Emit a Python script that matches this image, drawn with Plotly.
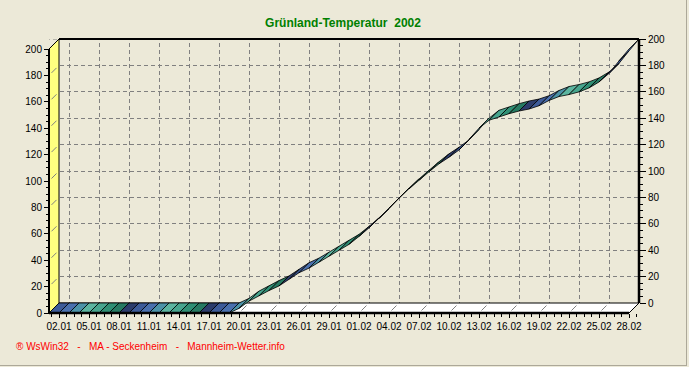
import plotly.graph_objects as go

# ---------------- data ----------------
days = list(range(1, 60))  # 01.01 .. 28.02 (day of year)
values = [0] * 19 + [
    3.5, 9, 13, 17, 20.5, 25.5, 30.5, 34, 38.5, 43,
    47.5, 52, 58, 64.5, 71.5, 79.5, 87, 94, 100.5, 107,
    113, 118, 123.5, 131.5, 140, 146, 148.5, 151, 153, 154.5,
    157, 161, 164, 165.5, 167.5, 170.5, 175, 181.5, 191, 200,
]
label_days = [2, 5, 8, 11, 14, 17, 20, 23, 26, 29, 32, 35, 38, 41, 44, 47, 50, 53, 56, 59]
labels = ["02.01", "05.01", "08.01", "11.01", "14.01", "17.01", "20.01", "23.01", "26.01", "29.01",
          "01.02", "04.02", "07.02", "10.02", "13.02", "16.02", "19.02", "22.02", "25.02", "28.02"]
y_ticks = [0, 20, 40, 60, 80, 100, 120, 140, 160, 180, 200]
title_text = "Grünland-Temperatur  2002"
footer_text = "® WsWin32   -   MA - Seckenheim   -   Mannheim-Wetter.info"

# ---------------- style ----------------
palette = ["#3d5b99", "#4a70ae", "#4c93a8", "#5cb5a0", "#47a58e", "#2f8f74", "#267a62", "#2c3c6c"]
BG = "#ece9d8"
GRID = "#808080"
FONT = "Liberation Sans, Arial, sans-serif"

W, H = 689, 367
PX_DAY = 10.0
PX_UNIT = 1.32
DX = 1.0                 # depth offset (days)
DY = 10.0 / PX_UNIT      # depth offset (value units)
PADX = 0.3
PADY = 3.0 / PX_UNIT

x0, x1 = days[0] - 1, days[-1]
ylo, yhi = -DY, y_ticks[-1]
xr = [x0 - PADX, x1 + PADX]
yr = [ylo - PADY, yhi + PADY]

L = 49 - PADX * PX_DAY
plot_w = (xr[1] - xr[0]) * PX_DAY
R = W - L - plot_w
T = 39 - PADY * PX_UNIT
plot_h = (yr[1] - yr[0]) * PX_UNIT
B = H - T - plot_h

fig = go.Figure()

def poly(xs, ys, fill, lc="black", lw=1, filled=True):
    fig.add_trace(go.Scatter(
        x=xs, y=ys, mode="lines",
        fill="toself" if filled else None,
        fillcolor=fill,
        line=dict(color=lc, width=lw),
        hoverinfo="skip", showlegend=False,
    ))

# cover padding ring (hides grid bits outside the box)
cx, cy = [], []
for (a, b, c, d) in [
    (xr[0], xr[1], yhi - 0.4, yr[1]),
    (x1, xr[1], yr[0], yr[1]),
    (xr[0], x0, yr[0], yr[1]),
    (xr[0], xr[1], yr[0], ylo),
]:
    cx += [a, b, b, a, a, None]
    cy += [c, c, d, d, c, None]
poly(cx, cy, BG, lc=BG, lw=0)

# left wall (yellow)
poly([x0, x0, x0 + DX, x0 + DX, x0], [ylo, yhi - DY, yhi, 0, ylo], "#ffff80", lw=1)
# floor (white)
poly([x0, x0 + DX, x1, x1 - DX, x0], [ylo, 0, 0, ylo, ylo], "#ffffff", lw=1)

# grid continuation on wall and floor
gx, gy = [], []
for v in y_ticks[1:-1]:
    gx += [x0 + 0.25, x0 + 0.75, None]
    gy += [v - DY * 0.75, v - DY * 0.25, None]
for d in label_days[:-1]:
    gx += [d - 0.75, d - 0.25, None]
    gy += [-DY * 0.75, -DY * 0.25, None]
poly(gx, gy, None, lc=GRID, lw=1, filled=False)

# ribbon segments
seg = {k: ([], []) for k in range(len(palette))}
for i in range(len(days) - 1):
    d0, d1 = days[i], days[i + 1]
    v0, v1 = values[i], values[i + 1]
    k = i % len(palette)
    seg[k][0].extend([d0, d1, d1 - DX, d0 - DX, d0, None])
    seg[k][1].extend([v0, v1, v1 - DY, v0 - DY, v0, None])
for k, (xs, ys) in seg.items():
    poly(xs, ys, palette[k], lc="black", lw=0.8)

# box edges
poly([x0, x0], [ylo, yhi - DY], None, lw=2, filled=False)           # left front axis
poly([x0, x1 - DX], [ylo, ylo], None, lw=2.5, filled=False)          # front floor edge
poly([x1, x1], [0, yhi], None, lw=2.5, filled=False)                 # right axis
poly([x0 + DX, x1], [yhi, yhi], None, lw=2, filled=False)            # top back edge
poly([x1 - DX, x1], [ylo, 0], None, lw=1, filled=False)              # floor right diagonal

# invisible trace binding the grid axes
fig.add_trace(go.Scatter(x=[None], y=[None], xaxis="x2", yaxis="y2",
                         mode="lines", showlegend=False, hoverinfo="skip"))

tick_font = dict(family=FONT, size=10, color="black")
fig.update_layout(
    width=W, height=H,
    margin=dict(l=L, r=R, t=T, b=B, pad=0),
    paper_bgcolor=BG, plot_bgcolor=BG,
    showlegend=False,
    title=dict(text="<b>" + title_text + "</b>", x=343 / W, xanchor="center",
               y=1 - 23 / H, yanchor="middle",
               font=dict(family=FONT, size=12, color="#008000")),
    xaxis=dict(range=xr, anchor="free", position=((H - B) - 313) / plot_h,
               tickmode="array", tickvals=[d - DX for d in label_days], ticktext=labels,
               ticks="outside", ticklen=4, tickcolor="black", tickwidth=1,
               minor=dict(ticks="outside", ticklen=3, tickcolor="black", tick0=label_days[0] - DX, dtick=0.75),
               showgrid=False, zeroline=False, showline=False,
               tickfont=tick_font, fixedrange=True),
    xaxis2=dict(range=xr, overlaying="x", anchor="y2", side="bottom",
                tickmode="array", tickvals=label_days[:-1], showticklabels=False, ticks="",
                showgrid=True, gridcolor=GRID, gridwidth=1, griddash="4px,3px",
                zeroline=False, showline=False, fixedrange=True),
    yaxis=dict(range=yr, anchor="free", position=(49 - L) / plot_w,
               tickmode="array", tickvals=[v - DY for v in y_ticks], ticktext=[str(v) for v in y_ticks],
               ticks="outside", ticklen=5, tickcolor="black",
               minor=dict(ticks="outside", ticklen=3, tickcolor="black", tickmode="array",
                          tickvals=[v - DY for v in range(0, 201, 5)]),
               showgrid=False, zeroline=False, showline=False,
               tickfont=tick_font, fixedrange=True),
    yaxis2=dict(range=yr, overlaying="y", anchor="free", side="right", position=(639 - L) / plot_w,
                tickmode="array", tickvals=y_ticks, ticktext=[str(v) for v in y_ticks],
                ticks="outside", ticklen=6, tickcolor="black",
                minor=dict(ticks="outside", ticklen=3, tickcolor="black", tickmode="array",
                           tickvals=list(range(0, 201, 5))),
                showgrid=True, gridcolor=GRID, gridwidth=1, griddash="4px,3px",
                zeroline=False, showline=False,
                tickfont=tick_font, fixedrange=True),
    annotations=[dict(text=footer_text, xref="paper", yref="paper",
                      x=(14 - L) / plot_w, y=((H - B) - 346) / plot_h,
                      xanchor="left", yanchor="middle", showarrow=False,
                      font=dict(family=FONT, size=10, color="#ff0000"))],
    shapes=[
        dict(type="line", xref="paper", yref="paper",
             x0=(686.5 - L) / plot_w, x1=(686.5 - L) / plot_w,
             y0=((H - B) - 0) / plot_h, y1=((H - B) - 365.5) / plot_h,
             line=dict(color="#aca899", width=1)),
        dict(type="line", xref="paper", yref="paper",
             x0=(0 - L) / plot_w, x1=(687 - L) / plot_w,
             y0=((H - B) - 365.5) / plot_h, y1=((H - B) - 365.5) / plot_h,
             line=dict(color="#aca899", width=1)),
    ],
)

fig.write_html("out.html", config={"displayModeBar": False},
               post_script="document.body.style.margin='0';document.body.style.background='" + BG + "';")
